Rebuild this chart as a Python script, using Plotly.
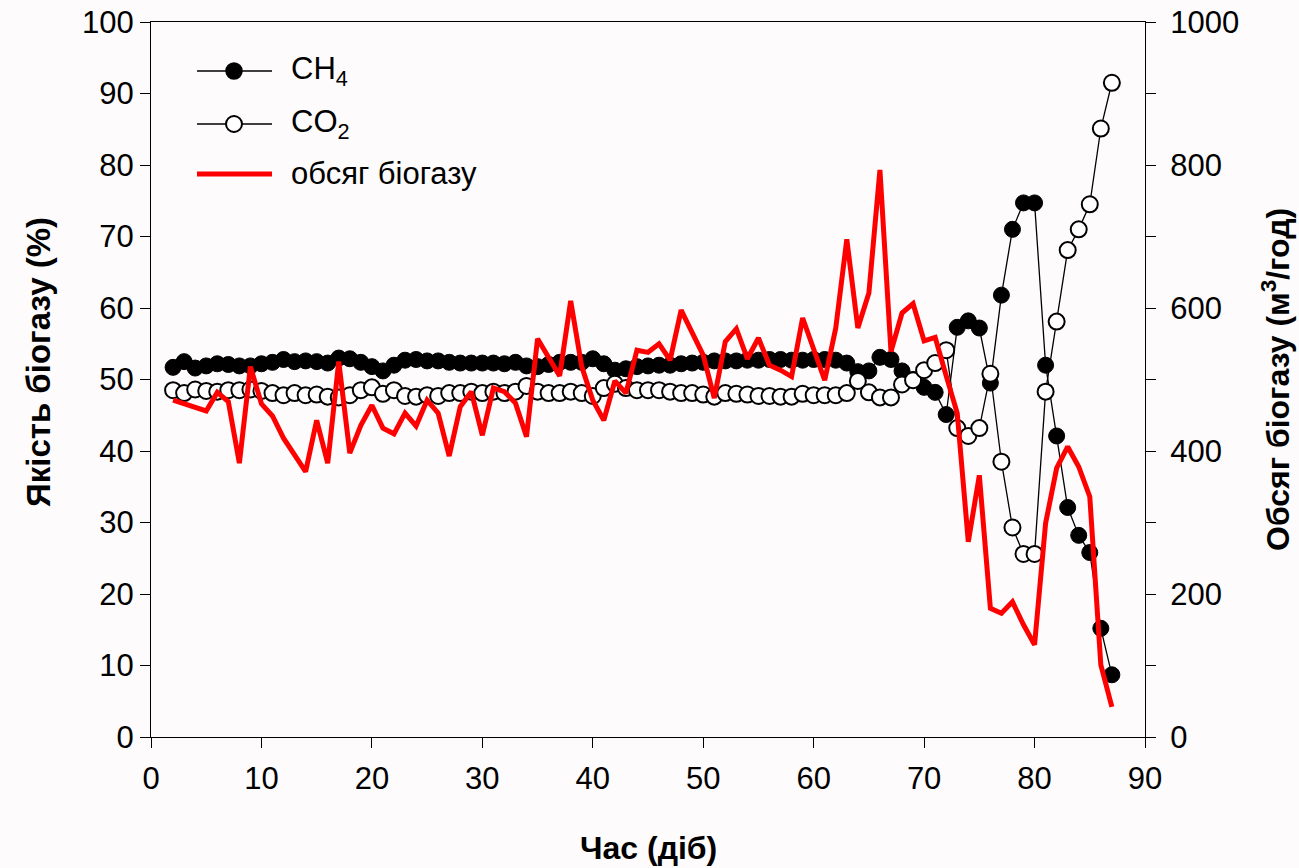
import plotly.graph_objects as go

days = [2, 3, 4, 5, 6, 7, 8, 9, 10, 11, 12, 13, 14, 15, 16, 17, 18, 19, 20, 21,
        22, 23, 24, 25, 26, 27, 28, 29, 30, 31, 32, 33, 34, 35, 36, 37, 38, 39, 40, 41,
        42, 43, 44, 45, 46, 47, 48, 49, 50, 51, 52, 53, 54, 55, 56, 57, 58, 59, 60, 61,
        62, 63, 64, 65, 66, 67, 68, 69, 70, 71, 72, 73, 74, 75, 76, 77, 78, 79, 80, 81,
        82, 83, 84, 85, 86, 87]

ch4 = [51.7, 52.5, 51.6, 51.9, 52.2, 52.1, 51.9, 51.9, 52.2, 52.4, 52.8, 52.5, 52.6, 52.5,
       52.3, 53.0, 52.9, 52.4, 51.8, 51.2, 52.0, 52.7, 52.8, 52.6, 52.6, 52.4, 52.3, 52.3,
       52.3, 52.3, 52.2, 52.4, 51.9, 51.8, 52.1, 52.4, 52.4, 52.4, 52.9, 52.2, 51.3, 51.5,
       51.8, 51.9, 52.0, 52.0, 52.2, 52.3, 52.4, 52.6, 52.6, 52.6, 52.7, 52.7, 52.8, 52.8,
       52.7, 52.7, 52.8, 52.8, 52.7, 52.3, 51.1, 51.2, 53.1, 52.8, 51.2, 50.0, 48.9, 48.2,
       45.1, 57.3, 58.2, 57.2, 49.5, 61.8, 71.0, 74.7, 74.7, 52.0, 42.1, 32.1, 28.2, 25.8,
       15.2, 8.7]

co2 = [48.5, 48.1, 48.6, 48.4, 48.3, 48.5, 48.5, 48.6, 48.4, 48.1, 47.8, 48.1, 47.8, 47.9,
       47.6, 47.5, 47.8, 48.5, 48.9, 48.0, 48.5, 47.7, 47.6, 47.8, 47.7, 48.1, 48.1, 48.3,
       48.1, 48.3, 48.1, 48.3, 49.1, 48.3, 48.1, 48.1, 48.3, 48.1, 47.7, 48.8, 49.4, 48.8,
       48.5, 48.5, 48.5, 48.3, 48.1, 48.1, 47.9, 47.6, 48.1, 48.0, 47.9, 47.7, 47.7, 47.6,
       47.6, 48.0, 47.8, 47.8, 47.8, 48.1, 49.8, 48.2, 47.5, 47.5, 49.3, 49.9, 51.3, 52.3,
       54.1, 43.2, 42.1, 43.2, 50.8, 38.5, 29.3, 25.6, 25.6, 48.3, 58.1, 68.1, 71.0, 74.5,
       85.1, 91.5]

volume = [471, 466, 460, 456, 482, 469, 383, 518, 466, 449, 418, 394, 371, 443, 383, 525,
          397, 436, 464, 432, 424, 453, 435, 471, 453, 393, 462, 483, 422, 488, 483, 467,
          420, 557, 530, 505, 610, 518, 471, 443, 498, 481, 541, 538, 550, 527, 597, 565,
          534, 474, 553, 571, 529, 558, 520, 513, 504, 586, 544, 499, 572, 696, 572, 621,
          793, 539, 593, 606, 554, 559, 505, 453, 273, 366, 180, 173, 189, 157, 129, 299,
          376, 406, 378, 336, 101, 42]

legend_labels = ["CH<sub>4</sub>", "CO<sub>2</sub>", "обсяг біогазу"]
x_title = "Час (діб)"
y_title = "Якість біогазу (%)"
y2_title = "Обсяг біогазу (м<sup>3</sup>/год)"

FONT = "Liberation Sans, Arial, sans-serif"
BG = "#fdfbfc"
TICK_SIZE = 31

fig = go.Figure()
fig.add_trace(go.Scatter(
    x=days, y=ch4, mode="lines+markers", name="CH4",
    line=dict(color="black", width=1.3),
    marker=dict(symbol="circle", size=16, color="black", line=dict(color="black", width=1)),
    showlegend=False))
fig.add_trace(go.Scatter(
    x=days, y=co2, mode="lines+markers", name="CO2",
    line=dict(color="black", width=1.3),
    marker=dict(symbol="circle", size=16, color="white", line=dict(color="black", width=2)),
    showlegend=False))
fig.add_trace(go.Scatter(
    x=days, y=volume, mode="lines", name="обсяг біогазу", yaxis="y2",
    line=dict(color="#ff0000", width=5), showlegend=False))

L, R, T, B = 151, 154, 22, 131
W, H = 1299, 868
pw, ph = W - L - R, H - T - B

def px(xp):
    return (xp - L) / pw

def py(yp):
    return (H - B - yp) / ph

fig.update_layout(
    width=W, height=H, autosize=False, showlegend=False,
    margin=dict(l=L, r=R, t=T, b=B, pad=0, autoexpand=False),
    paper_bgcolor=BG, plot_bgcolor=BG,
    font=dict(family=FONT, size=TICK_SIZE, color="black"),
    xaxis=dict(range=[0, 90], dtick=10, tick0=0, showgrid=False, zeroline=False,
               showline=True, linecolor="black", linewidth=1, mirror=True,
               ticks="outside", ticklen=10, tickcolor="black", tickwidth=1,
               automargin=False,
               ticklabelstandoff=4, tickfont=dict(size=TICK_SIZE)),
    yaxis=dict(range=[0, 100], dtick=10, tick0=0, showgrid=False, zeroline=False,
               showline=True, linecolor="black", linewidth=1,
               ticks="outside", ticklen=10, tickcolor="black", tickwidth=1,
               automargin=False,
               tickfont=dict(size=TICK_SIZE)),
    yaxis2=dict(range=[0, 1000], dtick=200, tick0=0, overlaying="y", side="right",
                showgrid=False, zeroline=False, showline=True, linecolor="black", linewidth=1,
                ticks="outside", ticklen=10, tickcolor="black", tickwidth=1,
                ticklabelstandoff=8, automargin=False,
                minor=dict(dtick=100, ticks="outside", ticklen=10, tickcolor="black", tickwidth=1),
                tickfont=dict(size=TICK_SIZE)),
)

annotations = [
    dict(text="<b>%s</b>" % x_title, x=0.5, y=py(848), xref="paper", yref="paper",
         showarrow=False, font=dict(size=32), xanchor="center", yanchor="middle"),
    dict(text="<b>%s</b>" % y_title, x=px(38), y=py(362), xref="paper", yref="paper",
         showarrow=False, font=dict(size=33), textangle=-90, xanchor="center", yanchor="middle"),
    dict(text="<b>%s</b>" % y2_title, x=px(1276), y=py(380), xref="paper", yref="paper",
         showarrow=False, font=dict(size=32), textangle=-90, xanchor="center", yanchor="middle"),
]

shapes = []
rows = [71, 124, 174]
for i, (lab, ry) in enumerate(zip(legend_labels, rows)):
    if i < 2:
        shapes.append(dict(type="line", xref="paper", yref="paper",
                           x0=px(197), x1=px(272), y0=py(ry), y1=py(ry),
                           line=dict(color="black", width=1.3)))
        shapes.append(dict(type="circle", xref="paper", yref="paper",
                           xsizemode="pixel", ysizemode="pixel",
                           xanchor=px(234), yanchor=py(ry),
                           x0=-8, x1=8, y0=-8, y1=8,
                           fillcolor="black" if i == 0 else "white",
                           line=dict(color="black", width=1.5 if i == 0 else 2)))
    else:
        shapes.append(dict(type="line", xref="paper", yref="paper",
                           x0=px(197), x1=px(272), y0=py(ry), y1=py(ry),
                           line=dict(color="#ff0000", width=5)))
    annotations.append(dict(text=lab, x=px(289), y=py(ry), xref="paper", yref="paper",
                            showarrow=False, xanchor="left", yanchor="middle",
                            font=dict(size=31)))

fig.update_layout(annotations=annotations, shapes=shapes)
fig.write_html("out.html")
